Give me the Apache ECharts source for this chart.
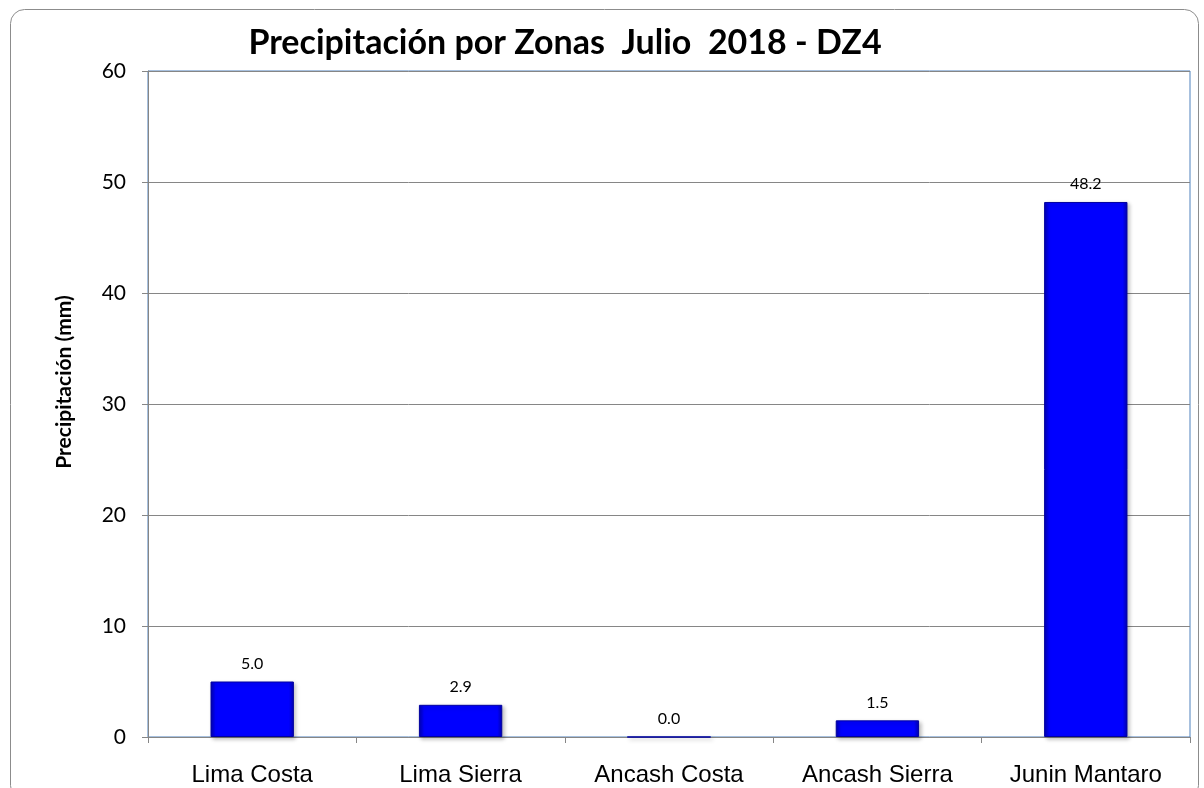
<!DOCTYPE html>
<html><head><meta charset="utf-8">
<script src="https://cdn.jsdelivr.net/npm/echarts@6/dist/echarts.min.js"></script>
<style>html,body{margin:0;padding:0;background:#fff}#c{width:1204px;height:788px}</style>
</head><body><div id="c"></div>
<script>
const categories = ["Lima Costa", "Lima Sierra", "Ancash Costa", "Ancash Sierra", "Junin Mantaro"];
const values = [5.0, 2.9, 0.0, 1.5, 48.2];
const yTicks = [0, 10, 20, 30, 40, 50, 60];
const yAxisName = 'Precipitación (mm)';

const chart = echarts.init(document.getElementById('c'));
const barFill = {
  type: 'linear', x: 0, y: 0, x2: 1, y2: 0,
  colorStops: [
    {offset: 0, color: '#0000b0'},
    {offset: 0.06, color: '#0000ff'},
    {offset: 0.94, color: '#0000ff'},
    {offset: 1, color: '#0000b0'}
  ]
};
chart.setOption({
  animation: false,
  graphic: [{
    type: 'rect', left: 8, top: 7,
    shape: {width: 1188, height: 790, r: 14},
    style: {fill: 'none', stroke: '#8c8c8c', lineWidth: 1},
    z: -1
  }, {
    type: 'text', x: 64, y: 382, rotation: Math.PI / 2,
    style: {text: yAxisName, fontFamily: 'Lato', fontWeight: 'bold', fontSize: 21, fill: '#000',
      align: 'center', verticalAlign: 'middle'}
  }],
  title: {
    text: 'Precipitación por Zonas  Julio  2018 - DZ4',
    left: 560, textAlign: 'center', top: 21,
    textStyle: {fontFamily: 'Lato', fontWeight: 'bold', fontSize: 34, color: '#000'}
  },
  grid: {left: 148, right: 14, top: 71, bottom: 51, show: true, borderColor: '#4f81bd', borderWidth: 1, backgroundColor: 'transparent'},
  xAxis: {
    type: 'category', data: categories,
    axisLine: {lineStyle: {color: '#868686', width: 1}},
    axisTick: {show: true, alignWithLabel: false, length: 6, lineStyle: {color: '#868686'}},
    axisLabel: {fontFamily: 'Liberation Sans', fontSize: 24, color: '#000', margin: 26}
  },
  yAxis: {
    type: 'value', min: yTicks[0], max: yTicks[yTicks.length - 1], interval: 10,
    axisLine: {show: true, lineStyle: {color: '#868686'}},
    axisTick: {show: true, length: 6, lineStyle: {color: '#868686'}},
    axisLabel: {fontFamily: 'Lato', fontSize: 21, color: '#000', margin: 22},
    splitLine: {lineStyle: {color: '#868686', width: 1}}
  },
  series: [{
    type: 'bar', data: values, barWidth: '40%',
    itemStyle: {color: barFill, borderColor: '#0000a0', borderWidth: 1,
      shadowColor: 'rgba(0,0,0,0.25)', shadowBlur: 4, shadowOffsetX: 2, shadowOffsetY: 2},
    label: {show: true, position: 'top', distance: 10, formatter: p => p.value.toFixed(1),
      fontFamily: 'Lato', fontSize: 16, color: '#000'}
  }]
});
</script></body></html>
